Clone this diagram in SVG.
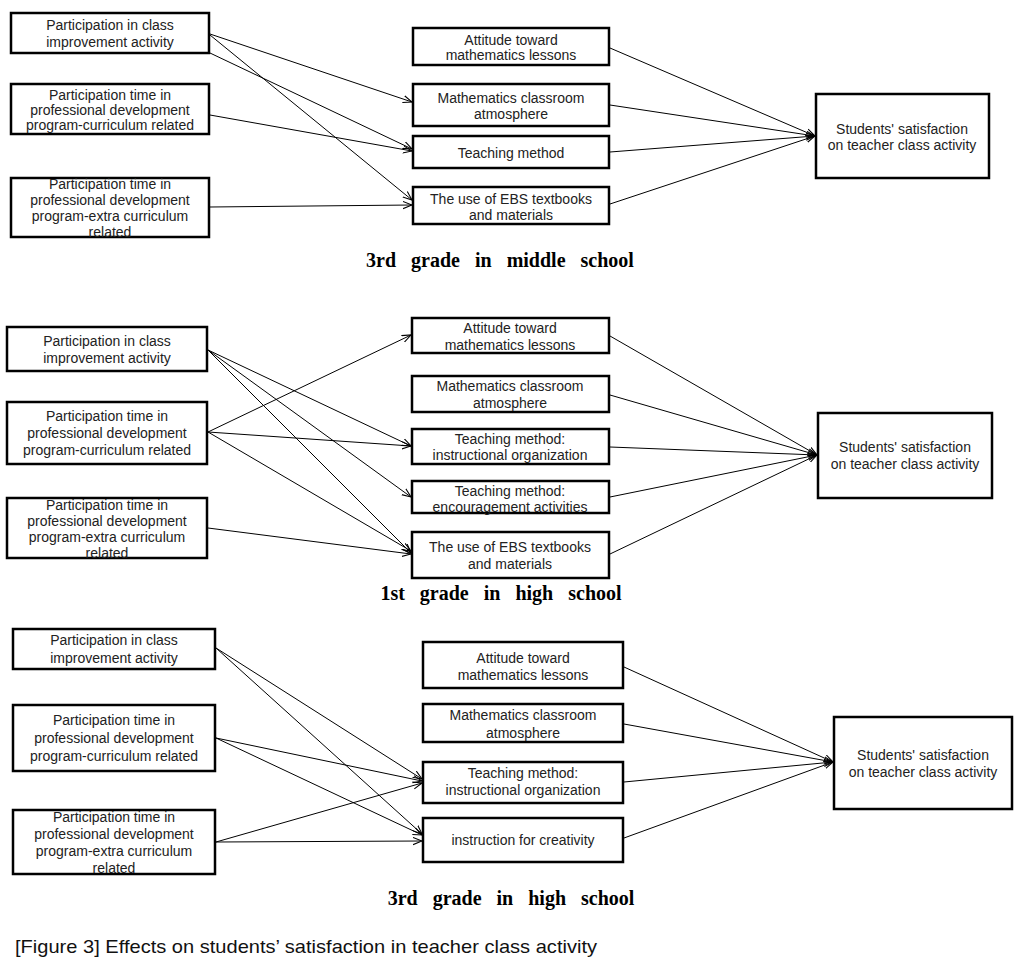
<svg xmlns="http://www.w3.org/2000/svg" width="1025" height="967" viewBox="0 0 1025 967">
<style>
.box{fill:#fff;stroke:#000;stroke-width:2.5}
.t{font-family:"Liberation Sans",Arial,sans-serif;font-size:14px;fill:#222;text-anchor:middle}
.ttl{font-family:"Liberation Serif","Times New Roman",serif;font-size:20px;font-weight:bold;fill:#000;text-anchor:middle;word-spacing:10px}
.cap{font-family:"Liberation Sans",Arial,sans-serif;font-size:19px;fill:#111}
.c line{stroke:#000;stroke-width:1;marker-end:url(#arr)}
</style>
<defs>
<marker id="arr" viewBox="0 0 10 10" refX="10" refY="5" markerWidth="9" markerHeight="9" markerUnits="userSpaceOnUse" orient="auto">
<path d="M0,1 L10,5 L0,9" fill="none" stroke="#000" stroke-width="1.2"/>
</marker>
</defs>
<rect width="1025" height="967" fill="#fff"/>

<g id="connectors" class="c">
<!-- panel 1 -->
<line x1="210" y1="34" x2="412" y2="102"/>
<line x1="210" y1="35" x2="412" y2="200"/>
<line x1="210" y1="53" x2="412" y2="149"/>
<line x1="210" y1="115" x2="412" y2="151"/>
<line x1="210" y1="207" x2="412" y2="205"/>
<line x1="610" y1="48" x2="815" y2="136"/>
<line x1="610" y1="105" x2="815" y2="136"/>
<line x1="610" y1="152" x2="815" y2="136"/>
<line x1="610" y1="204" x2="815" y2="136"/>
<!-- panel 2 -->
<line x1="208" y1="350" x2="411" y2="446"/>
<line x1="208" y1="350" x2="411" y2="497"/>
<line x1="208" y1="350" x2="411" y2="553"/>
<line x1="208" y1="432" x2="411" y2="335"/>
<line x1="208" y1="432" x2="411" y2="446"/>
<line x1="208" y1="432" x2="411" y2="551"/>
<line x1="208" y1="528" x2="411" y2="554"/>
<line x1="610" y1="336" x2="817" y2="455"/>
<line x1="610" y1="395" x2="817" y2="455"/>
<line x1="610" y1="447" x2="817" y2="455"/>
<line x1="610" y1="497" x2="817" y2="455"/>
<line x1="610" y1="554" x2="817" y2="455"/>
<!-- panel 3 -->
<line x1="216" y1="648" x2="422" y2="779"/>
<line x1="216" y1="648" x2="422" y2="834"/>
<line x1="216" y1="738" x2="422" y2="781"/>
<line x1="216" y1="738" x2="422" y2="835"/>
<line x1="216" y1="842" x2="422" y2="783"/>
<line x1="216" y1="842" x2="422" y2="841"/>
<line x1="624" y1="667" x2="833" y2="762"/>
<line x1="624" y1="724" x2="833" y2="762"/>
<line x1="624" y1="782" x2="833" y2="762"/>
<line x1="624" y1="838" x2="833" y2="762"/>
</g>

<!-- Panel 1 -->
<g id="p1-a1"><rect class="box" x="11" y="13" width="198" height="40"/>
<text class="t" x="110" y="30">Participation in class</text><text class="t" x="110" y="47">improvement activity</text></g>
<g id="p1-a2"><rect class="box" x="11" y="84" width="198" height="50"/>
<text class="t" x="110" y="99.5">Participation time in</text><text class="t" x="110" y="114.5">professional development</text><text class="t" x="110" y="129.5">program-curriculum related</text></g>
<g id="p1-a3"><rect class="box" x="11" y="178" width="198" height="59"/>
<text class="t" x="110" y="188.5">Participation time in</text><text class="t" x="110" y="204.5">professional development</text><text class="t" x="110" y="220.5">program-extra curriculum</text><text class="t" x="110" y="236.5">related</text></g>
<g id="p1-b1"><rect class="box" x="413" y="28" width="196" height="37"/>
<text class="t" x="511" y="44.5">Attitude toward</text><text class="t" x="511" y="59.5">mathematics lessons</text></g>
<g id="p1-b2"><rect class="box" x="413" y="84" width="196" height="42"/>
<text class="t" x="511" y="102.5">Mathematics classroom</text><text class="t" x="511" y="118.5">atmosphere</text></g>
<g id="p1-b3"><rect class="box" x="413" y="136" width="196" height="32"/>
<text class="t" x="511" y="157.5">Teaching method</text></g>
<g id="p1-b4"><rect class="box" x="413" y="187" width="196" height="37"/>
<text class="t" x="511" y="203.5">The use of EBS textbooks</text><text class="t" x="511" y="219.5">and materials</text></g>
<g id="p1-c"><rect class="box" x="816" y="94" width="173" height="84"/>
<text class="t" x="902" y="133.5">Students' satisfaction</text><text class="t" x="902" y="149.5">on teacher class activity</text></g>
<text class="ttl" x="500" y="267">3rd grade in middle school</text>

<!-- Panel 2 -->
<g id="p2-a1"><rect class="box" x="7" y="327" width="200" height="44"/>
<text class="t" x="107" y="346">Participation in class</text><text class="t" x="107" y="362.5">improvement activity</text></g>
<g id="p2-a2"><rect class="box" x="7" y="402" width="200" height="62"/>
<text class="t" x="107" y="420.5">Participation time in</text><text class="t" x="107" y="437.5">professional development</text><text class="t" x="107" y="454.5">program-curriculum related</text></g>
<g id="p2-a3"><rect class="box" x="7" y="498" width="200" height="60"/>
<text class="t" x="107" y="509.5">Participation time in</text><text class="t" x="107" y="525.5">professional development</text><text class="t" x="107" y="541.5">program-extra curriculum</text><text class="t" x="107" y="557.5">related</text></g>
<g id="p2-d1"><rect class="box" x="412" y="318" width="197" height="35"/>
<text class="t" x="510" y="332.5">Attitude toward</text><text class="t" x="510" y="349.5">mathematics lessons</text></g>
<g id="p2-d2"><rect class="box" x="412" y="376" width="197" height="36"/>
<text class="t" x="510" y="390.5">Mathematics classroom</text><text class="t" x="510" y="407.5">atmosphere</text></g>
<g id="p2-d3"><rect class="box" x="412" y="429" width="197" height="35"/>
<text class="t" x="510" y="443.5">Teaching method:</text><text class="t" x="510" y="459.5">instructional organization</text></g>
<g id="p2-d4"><rect class="box" x="412" y="481" width="197" height="32"/>
<text class="t" x="510" y="495.5">Teaching method:</text><text class="t" x="510" y="511.5">encouragement activities</text></g>
<g id="p2-d5"><rect class="box" x="412" y="532" width="197" height="46"/>
<text class="t" x="510" y="551.5">The use of EBS textbooks</text><text class="t" x="510" y="568.5">and materials</text></g>
<g id="p2-c"><rect class="box" x="818" y="413" width="174" height="85"/>
<text class="t" x="905" y="451.5">Students' satisfaction</text><text class="t" x="905" y="468.5">on teacher class activity</text></g>
<text class="ttl" x="501" y="600">1st grade in high school</text>

<!-- Panel 3 -->
<g id="p3-e1"><rect class="box" x="13" y="629" width="202" height="40"/>
<text class="t" x="114" y="644.5">Participation in class</text><text class="t" x="114" y="662.5">improvement activity</text></g>
<g id="p3-e2"><rect class="box" x="13" y="705" width="202" height="66"/>
<text class="t" x="114" y="725">Participation time in</text><text class="t" x="114" y="742.5">professional development</text><text class="t" x="114" y="760.5">program-curriculum related</text></g>
<g id="p3-e3"><rect class="box" x="13" y="810" width="202" height="64"/>
<text class="t" x="114" y="821.5">Participation time in</text><text class="t" x="114" y="838.5">professional development</text><text class="t" x="114" y="855.5">program-extra curriculum</text><text class="t" x="114" y="872.5">related</text></g>
<g id="p3-f1"><rect class="box" x="423" y="642" width="200" height="46"/>
<text class="t" x="523" y="662.5">Attitude toward</text><text class="t" x="523" y="679.5">mathematics lessons</text></g>
<g id="p3-f2"><rect class="box" x="423" y="704" width="200" height="38"/>
<text class="t" x="523" y="719.5">Mathematics classroom</text><text class="t" x="523" y="737.5">atmosphere</text></g>
<g id="p3-f3"><rect class="box" x="423" y="762" width="200" height="41"/>
<text class="t" x="523" y="777.5">Teaching method:</text><text class="t" x="523" y="794.5">instructional organization</text></g>
<g id="p3-f4"><rect class="box" x="423" y="818" width="200" height="44"/>
<text class="t" x="523" y="844.5">instruction for creativity</text></g>
<g id="p3-c"><rect class="box" x="834" y="717" width="178" height="92"/>
<text class="t" x="923" y="760">Students' satisfaction</text><text class="t" x="923" y="777">on teacher class activity</text></g>
<text class="ttl" x="511" y="905">3rd grade in high school</text>

<text class="cap" x="15" y="953" textLength="582" lengthAdjust="spacingAndGlyphs">[Figure 3] Effects on students’ satisfaction in teacher class activity</text>
</svg>
